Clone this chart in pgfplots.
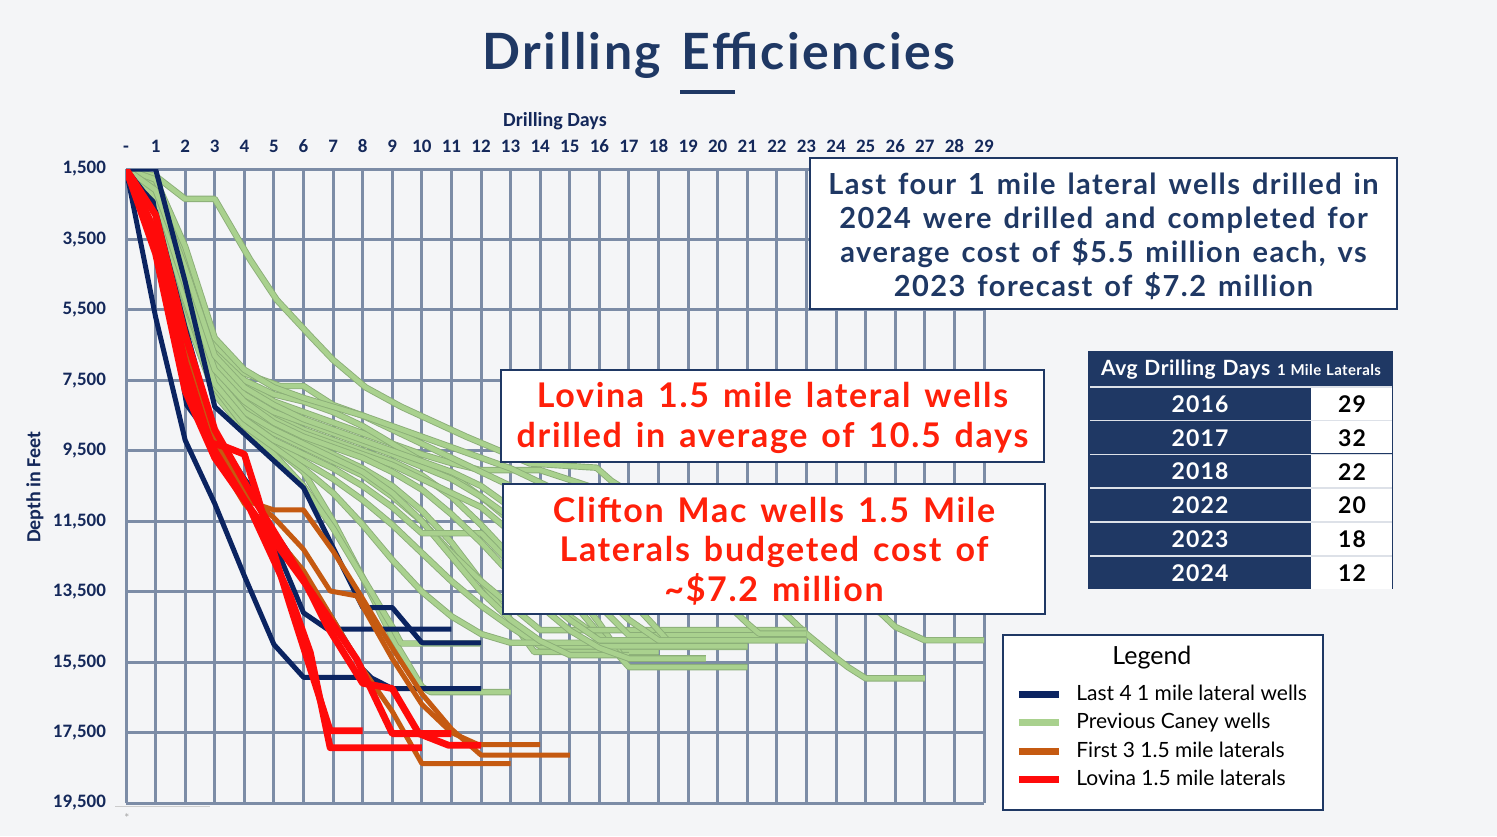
\documentclass[border=0pt]{standalone}
\usepackage{pgfplots}
\pgfplotsset{compat=1.18}
\usepackage{fontspec}
\setmainfont{Lato}
\newfontfamily\carlito{Carlito}
\newfontfamily\boxfont[LetterSpace=5, WordSpace=1.4]{Lato}
\newfontfamily\headfont[LetterSpace=2.5, WordSpace=1.2]{Lato}

\definecolor{navy}{HTML}{1F3864}
\definecolor{ticknavy}{HTML}{14285A}
\definecolor{wellnavy}{HTML}{0B2461}
\definecolor{gridc}{HTML}{7C8CA6}
\definecolor{caneyfill}{HTML}{A9D18E}
\definecolor{caneyedge}{HTML}{8BAE78}
\definecolor{firstor}{HTML}{C55A11}
\definecolor{lovina}{HTML}{FF0A0A}
\definecolor{bgc}{HTML}{F4F5F7}
\definecolor{boxred}{HTML}{FF200A}

\pgfplotsset{
  caney/.style={draw=caneyedge, line width=0.45pt, double=caneyfill, double distance=2.3pt, line join=round, forget plot},
  lastfour/.style={draw=wellnavy, line width=2.5pt, line join=round, forget plot},
  firstthree/.style={draw=firstor, line width=2.5pt, line join=round, forget plot},
  lovinaw/.style={draw=lovina, line width=3.4pt, line join=round, forget plot},
}

\begin{document}
\begin{tikzpicture}
\fill[bgc] (0,0) rectangle (748.5pt,418pt);
% frame behind the legend
\begin{scope}[x=0.5pt, y=-0.5pt, yshift=418pt]
  \draw[navy, line width=0.8pt, fill=white] (1003,635) rectangle (1323,810);
\end{scope}

\begin{axis}[
  at={(63pt,16.5pt)}, anchor=south west,
  scale only axis, width=429pt, height=317pt,
  xmin=0, xmax=29, ymin=1500, ymax=19500, y dir=reverse,
  xtick={0,...,29},
  xticklabels={-,1,2,3,4,5,6,7,8,9,10,11,12,13,14,15,16,17,18,19,20,21,22,23,24,25,26,27,28,29},
  xticklabel pos=top,
  ytick={1500,3500,...,19500},
  scaled y ticks=false,
  major tick length=0pt,
  axis line style={draw=none},
  xmajorgrids, ymajorgrids,
  major grid style={draw=gridc, line width=1.5pt},
  /pgf/number format/assume math mode=true,
  /pgf/number format/1000 sep={,},
  ticklabel style={font=\carlito\bfseries\fontsize{9.5}{10}\selectfont, text=ticknavy},
  xticklabel style={yshift=4.5pt},
  yticklabel style={xshift=-6.5pt},
  legend image code/.code={\draw[#1] (0pt,0pt) -- (20pt,0pt); \path (25pt,0pt);},
  legend style={at={(1.0221,0.2681)}, anchor=north west, draw=none, fill=none,
    inner xsep=6pt, inner ysep=4.5pt, row sep=1pt,
    font=\fontsize{10.5}{12.6}\selectfont},
  legend cell align=left,
]
\addlegendimage{empty legend}
\addlegendentry{\hspace*{18pt}\raisebox{3.5pt}{\fontsize{12.5}{14}\selectfont Legend}}
\addlegendimage{draw=wellnavy, line width=3.5pt}
\addlegendentry{Last 4 1 mile lateral wells}
\addlegendimage{draw=caneyfill, line width=3.5pt}
\addlegendentry{Previous Caney wells}
\addlegendimage{draw=firstor, line width=3.5pt}
\addlegendentry{First 3 1.5 mile laterals}
\addlegendimage{draw=lovina, line width=3.5pt}
\addlegendentry{Lovina 1.5 mile laterals}

% Previous Caney wells
\addplot[caney] coordinates {(0,1500)(1,1700)(2,2350)(3,2350)(4.2,4080)(5.1,5220)(6.25,6260)(7,6920)(8.1,7700)(9.3,8250)(11.5,9100)(13.65,9860)(15.9,9980)(16.4,10350)(18,11200)(20,12200)(22,13000)(24,13600)(25.5,14100)(26,14500)(27,14880)(29,14880)};
\addplot[caney] coordinates {(0,1500)(1,2100)(2,4200)(3,6700)(4,7600)(5,8100)(6,8400)(7,8700)(8,9000)(9,9300)(10,9600)(11,9850)(12,10050)(14,10050)(16,10600)(18,11600)(20,12700)(22,13900)(23,14700)(23.8,15250)(24.4,15640)(25,15960)(27,15960)};
\addplot[caney] coordinates {(0,1500)(1,2600)(2,5400)(3,7600)(4,8700)(5,9400)(6,10100)(7,11500)(8,13100)(9,14800)(10,16200)(10.3,16350)(13,16350)};
\addplot[caney] coordinates {(0,1500)(1,2200)(2,4500)(3,7000)(4,7900)(5,8500)(6,8900)(7,9200)(8,9500)(9,9800)(10,10200)(11,10800)(12,11600)(13,12500)(14,13400)(15,14200)(16,14800)(17,15070)(21,15070)};
\addplot[caney] coordinates {(0,1500)(1,2400)(2,4900)(3,7300)(4,8200)(5,8800)(6,9200)(7,9600)(8,10000)(9,10500)(10,11200)(11,12100)(12,13200)(13,14300)(13.8,15210)(18,15210)};
\addplot[caney] coordinates {(0,1500)(1,2000)(2,4100)(3,6600)(4,7500)(5,7900)(6,8100)(7,8400)(8,8800)(9,9300)(10,9800)(11,10200)(12,10800)(13,11500)(14,12300)(15,13300)(16,14400)(16.8,15390)(19.6,15390)};
\addplot[caney] coordinates {(0,1500)(1,2300)(2,4700)(3,7100)(4,8000)(5,8600)(6,9000)(7,9300)(8,9600)(9,9900)(10,10300)(11,10700)(12,11100)(13,11800)(14,12700)(15,13700)(16,14700)(17,15640)(21,15640)};
\addplot[caney] coordinates {(0,1500)(1,2500)(2,5100)(3,7500)(4,8400)(5,9000)(6,9400)(7,9800)(8,10200)(9,10800)(10,11500)(11,12400)(12,13200)(13,13900)(14,14590)(23,14590)};
\addplot[caney] coordinates {(0,1500)(1,2200)(2,4600)(3,7000)(4,7900)(5,8400)(6,8700)(7,9000)(8,9300)(9,9600)(10,9950)(11,10300)(12,10800)(13,11400)(14,12100)(15,13000)(16,13900)(17,14740)(23,14740)};
\addplot[caney] coordinates {(0,1500)(1,1900)(2,3900)(3,6500)(4,7300)(5.2,7660)(6,7660)(7,8200)(8,8500)(9,8900)(10,9300)(11,9700)(12,10100)(13,10500)(14,11100)(15,11900)(16,12800)(17,13700)(18,14600)(18.3,14880)(23,14880)};
\addplot[caney] coordinates {(0,1500)(1,1800)(2,3700)(3,6300)(4,7200)(5,7700)(6,8000)(7,8250)(8,8500)(9,8800)(10,9100)(11,9400)(12,9700)(13,10000)(14,10400)(16,11200)(18,12100)(19,12800)(20,13600)(21,14400)(21.4,14690)(23,14690)};
\addplot[caney] coordinates {(0,1500)(1,2600)(2,5400)(3,7700)(4,8700)(5,9300)(6,9800)(7,10300)(8,10900)(9,11600)(10,12400)(11,13200)(12,13900)(13,14500)(14,15050)(21,15050)};
\addplot[caney] coordinates {(0,1500)(1,2700)(2,5600)(3,7900)(4,8900)(5,9600)(6,10500)(7,11700)(8,13100)(9,14500)(9.3,14970)(12,14970)};
\addplot[caney] coordinates {(0,1500)(1,2600)(2,5300)(3,7700)(4,8800)(5,9400)(6,10000)(7,10700)(8,11600)(9,12600)(10,13500)(11,14200)(12,14700)(13,14950)(16,14950)};
\addplot[caney] coordinates {(0,1500)(1,2400)(2,5000)(3,7400)(4,8400)(5,8900)(6,9300)(7,9700)(8,10100)(9,10700)(10,11500)(11,12500)(12,13500)(13,14300)(14,14900)(15,15300)(17,15300)};
\addplot[caney] coordinates {(0,1500)(1,2500)(2,5200)(3,7600)(4,8600)(5,9200)(6,9600)(7,10000)(8,10500)(9,11100)(10,11840)(12,11840)(13,12700)(14,13600)(15,14300)(16,14880)(20,14880)};
\addplot[caney] coordinates {(0,1500)(1,2300)(2,4800)(3,7200)(4,8100)(5,8700)(6,9100)(7,9400)(8,9700)(9,10100)(10,10600)(11,11300)(12,12100)(13,13000)(14,13900)(15,14600)(16,15100)(17,15400)(19.6,15400)};
\addplot[caney] coordinates {(0,1500)(1,2100)(2,4300)(3,6800)(4,7700)(5,8200)(6,8600)(7,8900)(8,9200)(9,9500)(10,9800)(11,10100)(12,10500)(13,11100)(14,11800)(15,12600)(16,13500)(17,14300)(18,14880)(23,14880)};

% Last four 1 mile lateral wells
\addplot[lastfour] coordinates {(0,1500)(1,5700)(2,9200)(3,11000)(4,13050)(5,15000)(6,15930)(8,15930)};
\addplot[lastfour] coordinates {(0,1500)(1,1500)(2,4700)(3,8250)(6,10550)(8,13950)(9,13950)(10,14950)(12,14950)};
\addplot[lastfour] coordinates {(0,1500)(0.6,2150)(0.92,2430)(2.05,8200)(3.2,9500)(4.2,10500)(6,14100)(6.8,14560)(11,14560)};
\addplot[lastfour] coordinates {(0,1500)(1,2700)(2,6000)(3,9000)(4,10300)(5,11800)(6,13000)(7,14300)(8,15700)(8.3,15950)(9,16250)(12,16250)};

% First three 1.5 mile laterals
\addplot[firstthree] coordinates {(0,1500)(1,3400)(2,6700)(3,9200)(4,10900)(5,11180)(6,11180)(7,12350)(8,13700)(9,15100)(10,16400)(11,17400)(12,18140)(15,18140)};
\addplot[firstthree] coordinates {(0,1500)(1,3300)(2,6600)(3,9000)(4,10700)(5,11400)(6,12300)(6.9,13480)(7.8,13620)(9,15400)(10,16700)(11,17500)(11.9,17840)(14,17840)};
\addplot[firstthree] coordinates {(0,1500)(1,3500)(2,6900)(3,9600)(4,11000)(5,11900)(6,12900)(7,14300)(8,15700)(9,16900)(10,18380)(13,18380)};

% Lovina 1.5 mile laterals
\addplot[lovinaw] coordinates {(0,1500)(1,3300)(2,7000)(2.85,9270)(3.4,9400)(4,9600)(4.45,10800)(5,12400)(5.55,13900)(6.9,17450)(8,17450)};
\addplot[lovinaw] coordinates {(0,1500)(1,3700)(2,7500)(3,9500)(4.2,11160)(5.55,13620)(6.23,15230)(6.9,17930)(10,17930)};
\addplot[lovinaw] coordinates {(0,1500)(1,2800)(2,6200)(3,8900)(4.4,10970)(6,13150)(6.8,14480)(8,16100)(9,16250)(9.9,17530)(10.9,17860)(12,17860)};
\addplot[lovinaw] coordinates {(0,1500)(1,3900)(2,7800)(3,9700)(4.3,11250)(6.2,13430)(7.8,15420)(9,17530)(11,17530)};
\end{axis}

\begin{scope}[x=0.5pt, y=-0.5pt, yshift=418pt]
  % title
  \node[font=\boxfont\fontsize{25}{30}\selectfont\bfseries, text=navy] at (719,55) {Drilling Efficiencies};
  \fill[navy] (680,90) rectangle (735,94);
  % axis titles
  \node[font=\carlito\bfseries\fontsize{10}{12}\selectfont, text=ticknavy] at (555,121) {Drilling Days};
  \node[font=\carlito\bfseries\fontsize{10}{12}\selectfont, text=ticknavy, rotate=90] at (35,487) {Depth in Feet};
  % footnote mark
  \draw[gray!40, line width=0.4pt] (115,806) -- (210,806);
  \node[font=\fontsize{6}{7}\selectfont, text=gray!70] at (127,818) {*};

  % cost note
  \draw[navy, line width=0.8pt, fill=white] (810,158) rectangle (1397,309);
  \node[align=center, text=navy, font=\boxfont\fontsize{14.5}{17}\selectfont\bfseries] at (1103.5,236)
    {Last four 1 mile lateral wells drilled in\\2024 were drilled and completed for\\average cost of \$5.5 million each, vs\\2023 forecast of \$7.2 million};

  % Lovina note
  \draw[navy, line width=0.8pt, fill=white] (501,370) rectangle (1044,462);
  \node[align=center, text=boxred, font=\boxfont\fontsize{17}{20}\selectfont\bfseries] at (772.5,418)
    {Lovina 1.5 mile lateral wells\\drilled in average of 10.5 days};

  % Clifton Mac note
  \draw[navy, line width=0.8pt, fill=white] (503,484) rectangle (1045,614);
  \node[align=center, text=boxred, font=\boxfont\fontsize{17}{19.8}\selectfont\bfseries] at (774,551)
    {Clifton Mac wells 1.5 Mile\\Laterals budgeted cost of\\\textasciitilde\$7.2 million};

  % average drilling days table
  \fill[navy] (1088,351) rectangle (1393,589);
  \node[text=white, font=\headfont\bfseries] at (1241,370)
    {\fontsize{10.5}{12}\selectfont Avg Drilling Days \fontsize{7.5}{9}\selectfont 1 Mile Laterals};
  \foreach \yr/\dd [count=\i from 0] in {2016/29,2017/32,2018/22,2022/20,2023/18,2024/12} {
    \pgfmathsetmacro{\top}{387+\i*33.8}
    \pgfmathsetmacro{\bot}{\top+33.8}
    \pgfmathsetmacro{\mid}{\top+17}
    \fill[white] (1311,\top) rectangle (1392,\bot-1.2);
    \fill[white!85!navy] (1090,\top-1) rectangle (1392,\top+0.6);
    \node[text=white, font=\boxfont\fontsize{11.5}{13}\selectfont\bfseries] at (1200,\mid) {\yr};
    \node[text=black, font=\boxfont\fontsize{11.5}{13}\selectfont\bfseries] at (1352,\mid) {\dd};
  }
\end{scope}
\end{tikzpicture}
\end{document}
